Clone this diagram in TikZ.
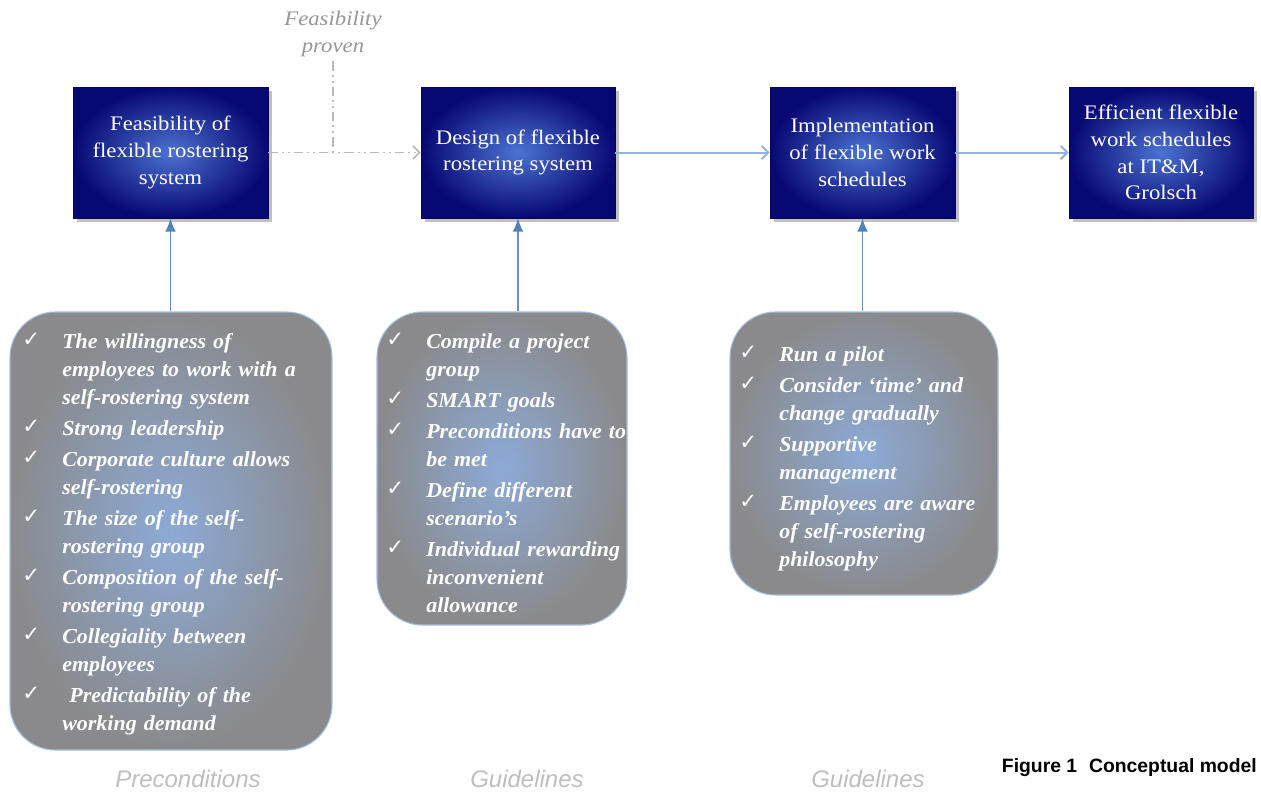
\documentclass[tikz,border=0pt]{standalone}
\usepackage{fontspec}
\setmainfont{Liberation Serif}
\newfontfamily\chkfont{DejaVu Sans}
\newfontfamily\lsans{Liberation Sans}
\newfontfamily\listfont[FakeStretch=1.03]{Liberation Serif}
\newfontfamily\boxfont[FakeStretch=1.1]{Liberation Serif}
\usetikzlibrary{arrows.meta,shadows,calc}

\definecolor{navyedge}{RGB}{8,8,115}
\definecolor{navyin}{RGB}{75,115,210}
\definecolor{grayedge}{RGB}{138,138,140}
\definecolor{grayin}{RGB}{140,170,215}
\definecolor{rborder}{RGB}{165,190,220}
\definecolor{flowblue}{RGB}{149,179,215}
\definecolor{upblue}{RGB}{79,129,189}
\definecolor{upline}{RGB}{110,145,195}
\definecolor{dashgray}{RGB}{185,185,185}
\definecolor{labelgray}{RGB}{190,190,190}
\definecolor{fpgray}{RGB}{150,150,150}

\newcommand\chk{{\chkfont\mdseries\upshape\fontsize{16}{16}\selectfont ✓}}
\newcommand\itm[1]{\noindent\hangindent=30pt\hangafter=1\relax\makebox[30pt][l]{\raisebox{1.5pt}{\chk}}#1\par\vspace{2.2pt}}

\tikzset{
  bbox/.style={rectangle, shading=radial, inner color=navyin, outer color=navyedge,
    draw=navyedge!80!black, line width=0.4pt, text=white, align=center,
    font=\boxfont\fontsize{15.5}{20}\selectfont,
    drop shadow={shadow xshift=3pt, shadow yshift=-3pt, fill=black!40, opacity=0.6}},
  rbox/.style={rectangle, rounded corners=34pt, shading=radial, inner color=grayin,
    outer color=grayedge, draw=rborder, line width=0.8pt},
  listtext/.style={anchor=north west, inner sep=0pt, align=left, text=white,
    font=\listfont\fontsize{16}{21}\selectfont\bfseries\itshape},
  flow/.style={draw=flowblue, line width=1.5pt, -{Straight Barb[length=5pt,width=10pt]}},
  upflow/.style={draw=upline, line width=1.2pt, -{Latex[length=10pt,width=8pt,fill=upblue,color=upblue]}},
  dashline/.style={draw=dashgray, line width=1.2pt,
    dash pattern=on 7pt off 3pt on 1.5pt off 3pt on 1.5pt off 3pt},
  bottomlabel/.style={text=labelgray, font=\lsans\fontsize{18}{20}\selectfont\itshape},
}

\begin{document}
\begin{tikzpicture}[x=0.75pt,y=-0.75pt]
\path[use as bounding box, fill=white] (0,0) rectangle (1261,794);

% rounded boxes
\node[rbox, minimum width=322*0.75pt, minimum height=438*0.75pt] (r1) at (171,531) {};
\node[rbox, minimum width=250*0.75pt, minimum height=313*0.75pt] (r2) at (502,468.5) {};
\node[rbox, minimum width=268*0.75pt, minimum height=283*0.75pt] (r3) at (864,453.5) {};

% blue boxes
\node[bbox, minimum width=195*0.75pt, minimum height=131*0.75pt] (b1) at (170.5,152.5) {Feasibility of\\flexible rostering\\system};
\node[bbox, minimum width=194*0.75pt, minimum height=131*0.75pt] (b2) at (518,152.5) {Design of flexible\\rostering system};
\node[bbox, minimum width=185*0.75pt, minimum height=131*0.75pt] (b3) at (862.5,152.5) {Implementation\\of flexible work\\schedules};
\node[bbox, minimum width=184*0.75pt, minimum height=131*0.75pt] (b4) at (1161,152.5) {Efficient flexible\\work schedules\\at IT\&M,\\Grolsch};

% feasibility proven
\node[text=fpgray, align=center, font=\boxfont\fontsize{15.5}{20}\selectfont\itshape] (fp) at (333,34) {Feasibility\\proven};
\coordinate (fpj) at (fp.south |- b1.east);

% connectors
\draw[dashline] (fp.south) -- (fpj);
\draw[dashline, -{Straight Barb[length=5pt,width=10pt]}] (b1.east) -- (b2.west);
\draw[flow] (b2.east) -- (b3.west);
\draw[flow] (b3.east) -- (b4.west);

\coordinate (a1) at (b1.south |- r1.north);
\coordinate (a2) at (b2.south |- r2.north);
\coordinate (a3) at (b3.south |- r3.north);
\draw[upflow] (a1) -- (b1.south);
\draw[upflow] (a2) -- (b2.south);
\draw[upflow] (a3) -- (b3.south);

% list texts
\node[listtext, text width=300*0.75pt] (t1) at (22,333) {%
\itm{The willingness of\newline employees to work with a\newline self-rostering system}
\itm{Strong leadership}
\itm{Corporate culture allows\newline self-rostering}
\itm{The size of the self-\newline rostering group}
\itm{Composition of the self-\newline rostering group}
\itm{Collegiality between\newline employees}
\itm{\ Predictability of the\newline working demand}};

\node[listtext, text width=240*0.75pt] (t2) at (386,333) {%
\itm{Compile a project\newline group}
\itm{SMART goals}
\itm{Preconditions have to\newline be met}
\itm{Define different\newline scenario’s}
\itm{Individual rewarding\newline inconvenient\newline allowance}};

\node[listtext, text width=258*0.75pt] (t3) at (739,346) {%
\itm{Run a pilot}
\itm{Consider ‘time’ and\newline change gradually}
\itm{Supportive\newline management}
\itm{Employees are aware\newline of self-rostering\newline philosophy}};

% bottom labels
\node[bottomlabel] (l1) at (188,779) {Preconditions};
\node[bottomlabel] (l2) at (527,779) {Guidelines};
\node[bottomlabel] (l3) at (868,779) {Guidelines};
\node[anchor=east, inner sep=0pt, font=\lsans\bfseries\fontsize{14.5}{16}\selectfont] (cap) at (1257,768) {Figure 1\hspace{9pt}Conceptual model};
\end{tikzpicture}
\end{document}
